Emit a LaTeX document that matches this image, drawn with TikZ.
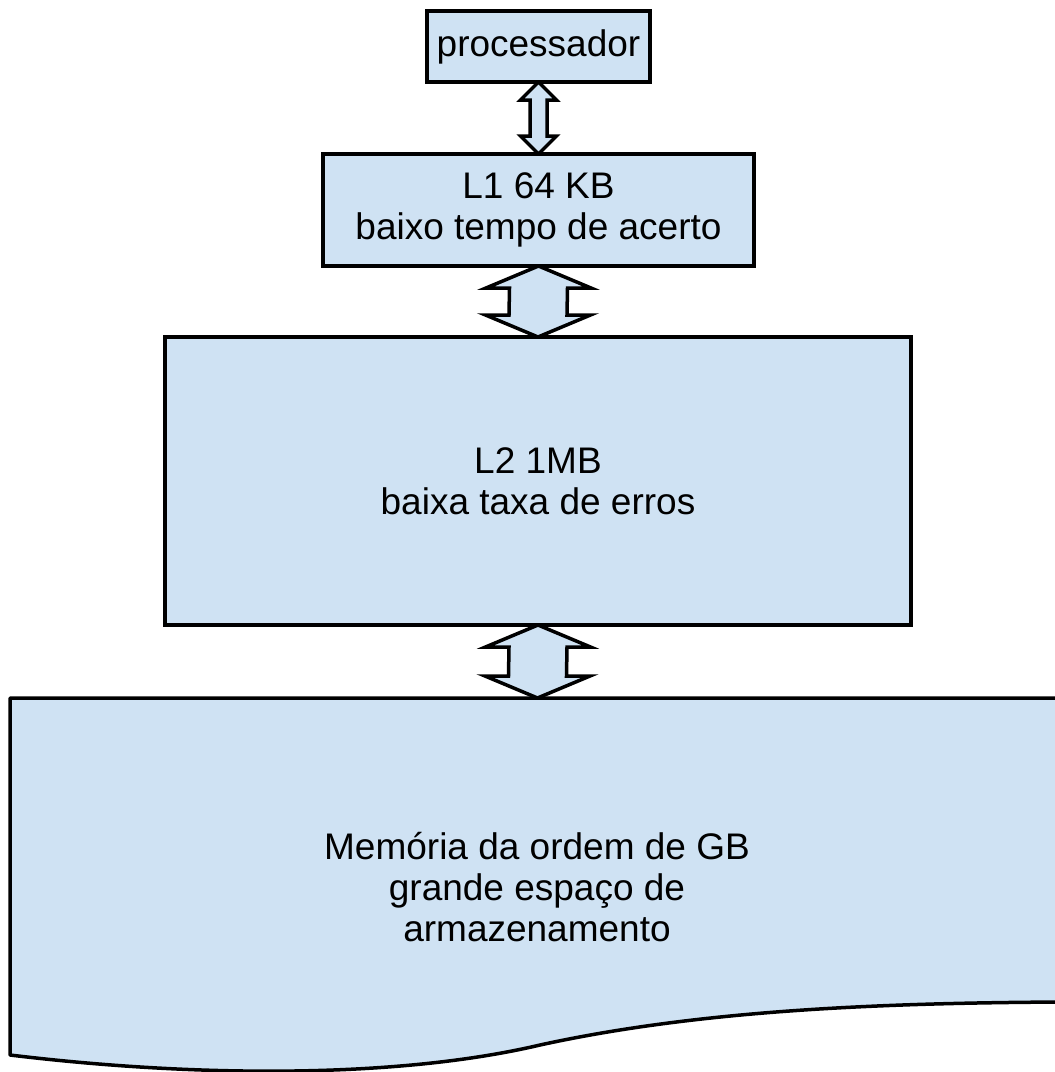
\documentclass[tikz,border=0pt]{standalone}
\usepackage{fontspec}
\setmainfont{Liberation Sans}
\usetikzlibrary{calc,backgrounds}
\definecolor{cellfill}{HTML}{CFE2F3}

% double-headed block arrow between two named points
% #1 upper tip, #2 lower tip, #3 head length, #4 head half width, #5 shaft half width
\newcommand{\blockarrow}[5]{%
  \path[link] (#1) -- ($(#1)+(#4,#3)$) -- ($(#1)+(#5,#3)$) -- ($(#2)+(#5,-#3)$)
    -- ($(#2)+(#4,-#3)$) -- (#2) -- ($(#2)+(-#4,-#3)$) -- ($(#2)+(-#5,-#3)$)
    -- ($(#1)+(-#5,#3)$) -- ($(#1)+(-#4,#3)$) -- cycle;}

\begin{document}
\begin{tikzpicture}[x=1pt,y=-1pt,
  txt/.style={align=center, inner sep=0pt, outer sep=0pt, text=black,
    font=\fontsize{37}{41}\selectfont},
  block/.style={txt, draw=black, fill=cellfill, line width=3.5pt},
  sheet/.style={draw=black, fill=cellfill, line width=3.5pt, line join=round},
  link/.style={draw=black, fill=cellfill, line width=3.5pt, line join=miter}]
\useasboundingbox (0,0) rectangle (1055,1072);

% memory: document-like shape with a wavy lower edge
\path[sheet] (10,698) -- (1062,698) -- (1062,1002)
  .. controls (880,1003) and (700,1010) .. (540,1045)
  .. controls (400,1078) and (200,1078) .. (10,1055) -- cycle;
\coordinate (memtop) at (537.5,698);
\node[txt] (mem) at (537,887) {Memória da ordem de GB\\grande espaço de\\armazenamento};

% cache hierarchy
\node[block, minimum width=223pt, minimum height=71pt] (proc) at (538.5,46.5) {processador};
\node[block, minimum width=431pt, minimum height=112pt] (l1) at (538.5,210) {L1 64 KB\\baixo tempo de acerto};
\node[block, minimum width=746pt, minimum height=288pt] (l2) at (538,481) {L2 1MB\\baixa taxa de erros};

% links between levels
\begin{scope}[on background layer]
  \blockarrow{proc.south}{l1.north}{18}{18}{8.5}
  \blockarrow{l1.south}{l2.north}{22}{52.5}{29}
  \blockarrow{l2.south}{memtop}{22}{52.5}{29}
\end{scope}
\end{tikzpicture}
\end{document}
